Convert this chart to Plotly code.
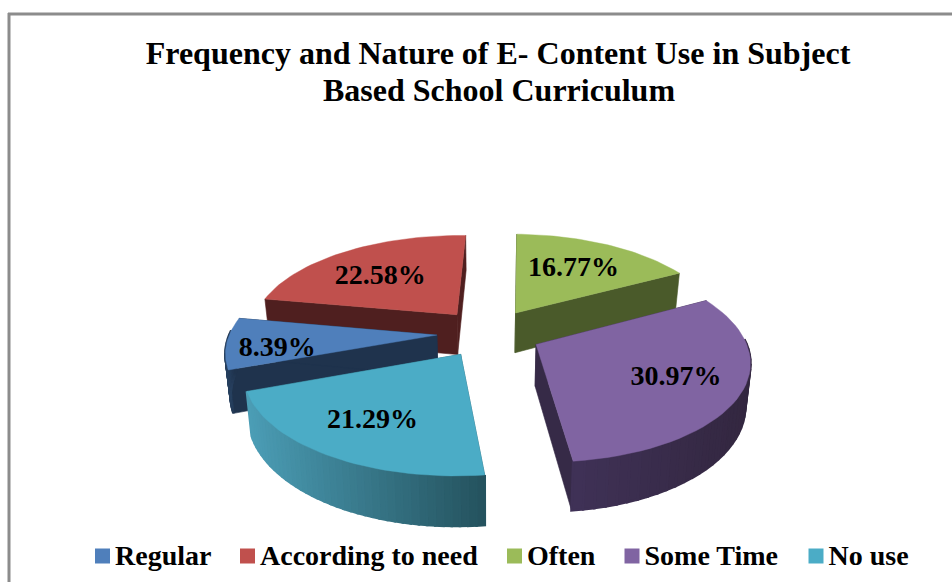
import math
import plotly.graph_objects as go

# ---- data ----
categories = ["Regular", "According to need", "Often", "Some Time", "No use"]
values = [8.39, 22.58, 16.77, 30.97, 21.29]
title_lines = ["Frequency and Nature of E- Content Use in Subject", "Based School Curriculum"]

# ---- styles ----
top_colors = ["#4f7fbb", "#c0504d", "#9bbb59", "#8064a2", "#4bacc6"]
cut_colors = ["#1f334d", "#4f1f1f", "#4a5a2a", "#362a47", "#2f6d7e"]
rim_left = ["#27405f", "#5a2523", "#4a5a2a", "#3f3156", "#4b9db5"]
rim_right = ["#1f334d", "#4f1f1f", "#3f4d24", "#332740", "#25535f"]
label_frac = [0.76, 0.61, 0.61, 0.70, 0.69]
label_turn = [-5.7, -4, 0, 0, 0]
legend_x = [102.5, 247.5, 514.5, 632, 816]
legend_y = 556
draw_order = [2, 1, 0, 3, 4]
label_size = 28
CX, CY, R, TILT, PERSP, EXPLODE, HEIGHT = 489, 333, 207, 0.465, 0.15, 0.252, 41
ROTATE = 1.5
FIRST_ANGLE = -sum(values[:2]) / sum(values) * 360 + ROTATE


def project(gx, gy, drop=False):
    p = 1 / (1 - PERSP * gy)
    sx = R * gx * p
    sy = CY + TILT * R * gy * p
    if drop:
        sx *= 0.98
        sy += HEIGHT * p
    return CX + sx, sy


def ground(ang, mid, frac=1.0):
    a, m = math.radians(ang), math.radians(mid)
    return (EXPLODE * math.sin(m) + frac * math.sin(a),
            -EXPLODE * math.cos(m) - frac * math.cos(a))


def lerp(c1, c2, t):
    a = [int(c1[i:i + 2], 16) for i in (1, 3, 5)]
    b = [int(c2[i:i + 2], 16) for i in (1, 3, 5)]
    return "rgb(%d,%d,%d)" % tuple(round(u + (v - u) * t) for u, v in zip(a, b))


fig = go.Figure()


def poly(pts, color, width=0.6):
    fig.add_trace(go.Scatter(
        x=[p[0] for p in pts] + [pts[0][0]], y=[p[1] for p in pts] + [pts[0][1]],
        mode="lines", fill="toself", fillcolor=color, line=dict(color=color, width=width),
        hoverinfo="skip", showlegend=False))


total = sum(values)
angles = []
cum = FIRST_ANGLE
for v in values:
    angles.append((cum, cum + v / total * 360))
    cum += v / total * 360

label_x, label_y, label_text = [], [], []
for i in draw_order:
    a0, a1 = angles[i]
    mid = (a0 + a1) / 2
    apex = ground(0, mid, 0)
    for ang in (a0, a1):  # cut faces
        rim = ground(ang, mid)
        poly([project(*apex), project(*rim), project(*rim, drop=True), project(*apex, drop=True)], cut_colors[i])
    n = 40
    steps = [a0 + (a1 - a0) * k / n for k in range(n + 1)]
    seg = [(s, t) for s, t in zip(steps, steps[1:]) if math.cos(math.radians((s + t) / 2)) < 0.05]
    xs = [project(*ground(u, mid))[0] for u, _ in seg]
    for s, t in seg:  # outer rim, shaded along screen x
        g0, g1 = ground(s, mid), ground(t, mid)
        shade = (project(*g0)[0] - min(xs)) / max(1, max(xs) - min(xs))
        poly([project(*g0), project(*g1), project(*g1, drop=True), project(*g0, drop=True)],
             lerp(rim_left[i], rim_right[i], shade), width=2.5)
    top = [project(*apex)] + [project(*ground(u, mid)) for u in steps]
    poly(top, top_colors[i], width=0.4)
    lx, ly = project(*ground(mid + label_turn[i], mid, label_frac[i]))
    label_x.append(lx); label_y.append(ly); label_text.append(f"{values[i]:.2f}%")

fig.add_trace(go.Scatter(x=label_x, y=label_y, text=label_text, mode="text", showlegend=False, hoverinfo="skip",
                         textfont=dict(family="Liberation Serif", size=label_size, color="black", weight="bold")))

for name, color, lx in zip(categories, top_colors, legend_x):
    fig.add_trace(go.Scatter(x=[lx], y=[legend_y], name=name, mode="markers", showlegend=False, hoverinfo="skip",
                             marker=dict(symbol="square", size=15, color=color)))
    fig.add_trace(go.Scatter(x=[lx + 12.5], y=[legend_y + 2], text=[name], mode="text",
                             textposition="middle right", showlegend=False, hoverinfo="skip",
                             textfont=dict(family="Liberation Serif", size=28, color="black", weight="bold")))

fig.update_layout(
    width=952, height=582, autosize=False, margin=dict(l=0, r=0, t=0, b=0),
    paper_bgcolor="white", plot_bgcolor="white", showlegend=False,
    font=dict(family="Liberation Serif", color="black"),
    title=dict(text="<b>%s</b>" % title_lines[0], x=498 / 952, xanchor="center", y=1 - 53 / 582, yanchor="middle",
               font=dict(size=32, family="Liberation Serif", color="black")),
    annotations=[dict(text="<b>%s</b>" % title_lines[1], x=498.5, y=89.5, xref="x", yref="y", showarrow=False,
                      font=dict(size=32, family="Liberation Serif", color="black"))],
    xaxis=dict(range=[0, 952], visible=False, fixedrange=True),
    yaxis=dict(range=[582, 0], visible=False, fixedrange=True),
    shapes=[
        dict(type="line", x0=9, x1=9, y0=13, y1=582, xref="x", yref="y", line=dict(color="#8c8c8c", width=3)),
        dict(type="line", x0=8, x1=952, y0=14, y1=14, xref="x", yref="y", line=dict(color="#8c8c8c", width=3)),
    ],
)
fig.write_html("out.html", config={"displayModeBar": False},
               post_script="document.body.style.margin='0';document.body.style.overflow='hidden';")
